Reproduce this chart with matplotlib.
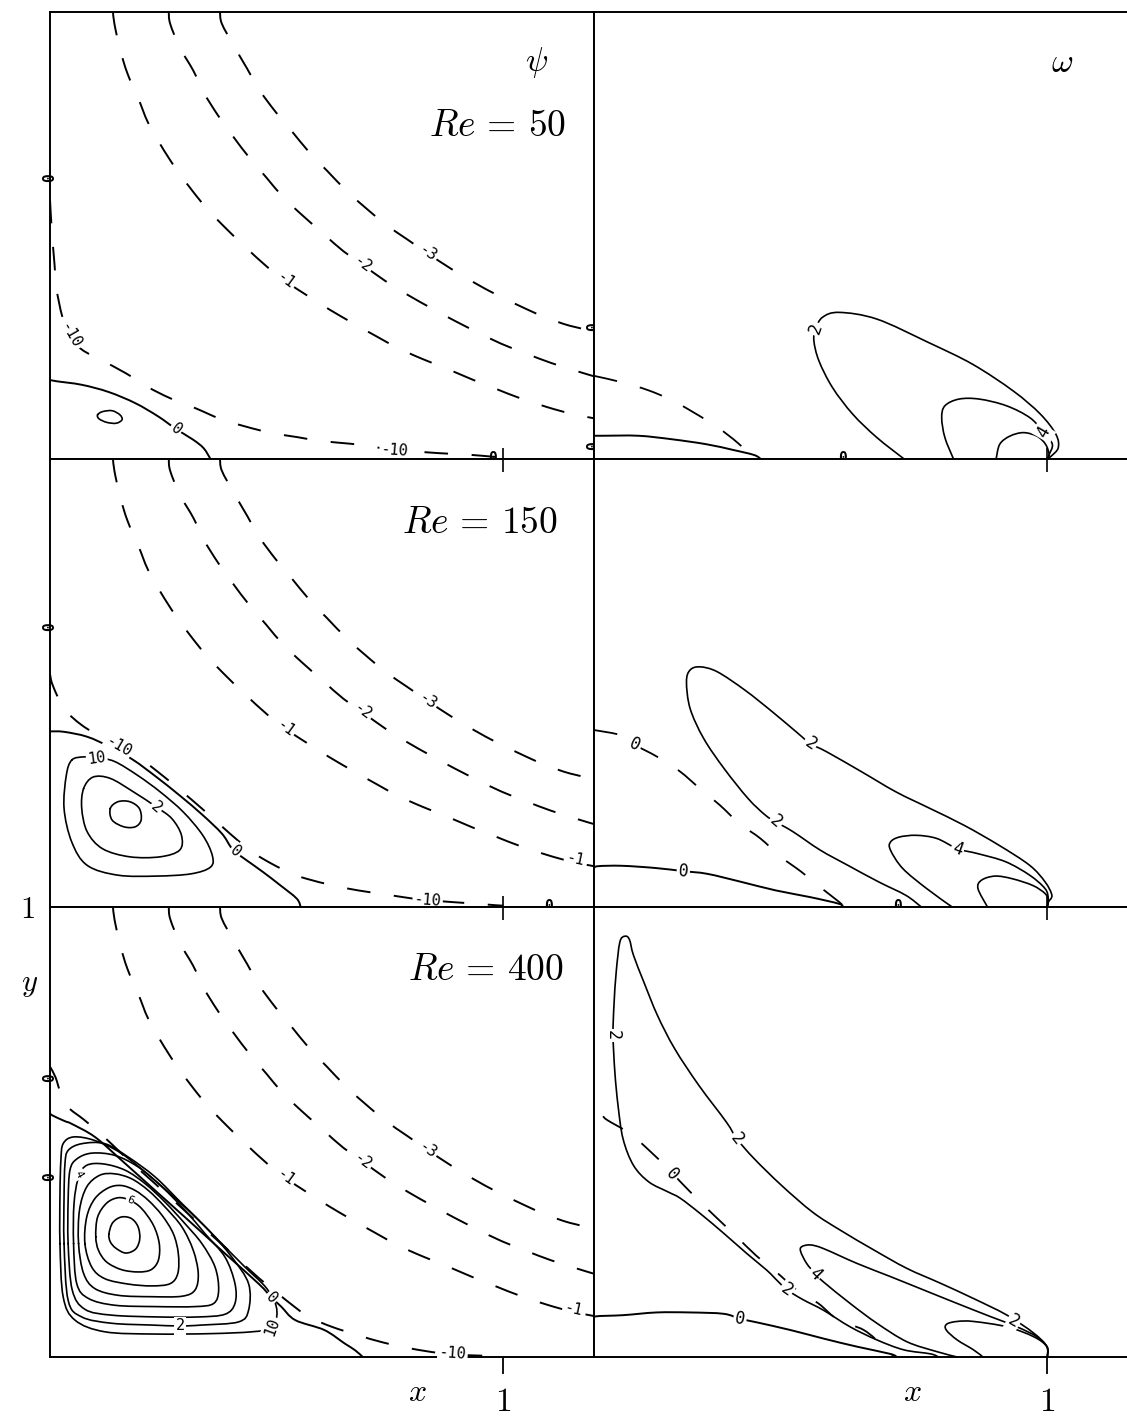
import matplotlib
matplotlib.use("Agg")
import matplotlib.pyplot as plt
from matplotlib.path import Path
from matplotlib.patches import PathPatch

plt.rcParams["mathtext.fontset"] = "cm"
plt.rcParams["lines.scale_dashes"] = False

# ---------------------------------------------------------------------------
# Stream-function contours far from the wall (psi = -1, -2, -3), same at all Re
# ---------------------------------------------------------------------------
PSI_NEG1 = [(0.139, 1.0), (0.142, 0.974), (0.154, 0.918), (0.171, 0.862), (0.195, 0.806),
            (0.216, 0.753), (0.245, 0.701), (0.276, 0.652), (0.311, 0.604), (0.347, 0.559),
            (0.390, 0.514), (0.430, 0.475), (0.481, 0.428), (0.519, 0.398), (0.570, 0.364),
            (0.617, 0.334), (0.668, 0.304), (0.719, 0.275), (0.770, 0.247), (0.821, 0.224),
            (0.880, 0.200), (0.931, 0.178), (0.986, 0.156), (1.037, 0.136), (1.097, 0.116),
            (1.147, 0.102), (1.2, 0.091)]
PSI_NEG2 = [(0.262, 1.0), (0.265, 0.974), (0.286, 0.921), (0.316, 0.869), (0.339, 0.820),
            (0.371, 0.768), (0.405, 0.720), (0.439, 0.675), (0.477, 0.630), (0.515, 0.585),
            (0.558, 0.544), (0.604, 0.503), (0.647, 0.465), (0.689, 0.435), (0.740, 0.398),
            (0.791, 0.366), (0.842, 0.337), (0.893, 0.309), (0.944, 0.283), (0.995, 0.258),
            (1.050, 0.236), (1.105, 0.215), (1.164, 0.196), (1.2, 0.185)]
PSI_NEG3 = [(0.375, 1.0), (0.379, 0.974), (0.405, 0.925), (0.435, 0.873), (0.460, 0.828),
            (0.498, 0.776), (0.532, 0.735), (0.572, 0.686), (0.611, 0.645), (0.654, 0.600),
            (0.696, 0.562), (0.740, 0.525), (0.787, 0.492), (0.833, 0.460), (0.884, 0.426),
            (0.935, 0.395), (0.986, 0.367), (1.037, 0.342), (1.092, 0.317), (1.147, 0.298),
            (1.2, 0.286)]

# ---------------------------------------------------------------------------
# Re = 50
# ---------------------------------------------------------------------------
RE50_PSI_M10 = [(0.0, 0.58), (0.004, 0.51), (0.010, 0.435), (0.014, 0.383), (0.027, 0.319),
                (0.044, 0.275), (0.070, 0.245), (0.112, 0.222), (0.167, 0.192), (0.214, 0.162),
                (0.265, 0.136), (0.320, 0.114), (0.375, 0.090), (0.430, 0.073), (0.485, 0.059),
                (0.545, 0.049), (0.600, 0.040), (0.664, 0.034), (0.715, 0.027), (0.753, 0.021),
                (0.859, 0.013), (0.918, 0.010), (0.978, 0.005), (1.0, 0.003)]
RE50_PSI_ZERO = [(0.0, 0.177), (0.014, 0.174), (0.070, 0.166), (0.129, 0.150), (0.188, 0.125),
                 (0.239, 0.095), (0.278, 0.067), (0.316, 0.043), (0.339, 0.024), (0.354, 0.0)]
RE50_PSI_CELL = [(0.105, 0.099), (0.116, 0.106), (0.137, 0.108), (0.154, 0.099), (0.159, 0.088),
                 (0.146, 0.080), (0.125, 0.082), (0.108, 0.090), (0.105, 0.099)]

RE50_OMG_ZERO = [(0.0, 0.052), (0.019, 0.052), (0.098, 0.052), (0.173, 0.044), (0.248, 0.033),
                 (0.308, 0.020), (0.353, 0.009), (0.368, 0.0)]
RE50_OMG_DASH = [(0.0, 0.186), (0.064, 0.171), (0.119, 0.154), (0.171, 0.132), (0.220, 0.104),
                 (0.271, 0.072), (0.316, 0.037), (0.345, 0.008)]
RE50_OMG_2 = [(0.684, 0.0), (0.624, 0.048), (0.571, 0.100), (0.526, 0.160), (0.496, 0.220),
              (0.485, 0.265), (0.489, 0.291), (0.504, 0.317), (0.541, 0.328), (0.624, 0.313),
              (0.737, 0.261), (0.835, 0.212), (0.925, 0.152), (0.985, 0.100), (1.019, 0.055),
              (1.024, 0.025), (1.008, 0.006), (1.0, 0.0)]
RE50_OMG_4 = [(0.793, 0.0), (0.774, 0.048), (0.767, 0.092), (0.774, 0.119), (0.805, 0.134),
              (0.850, 0.134), (0.910, 0.119), (0.962, 0.092), (0.992, 0.059), (1.011, 0.033),
              (1.004, 0.010), (1.0, 0.0)]
RE50_OMG_6 = [(0.887, 0.0), (0.895, 0.033), (0.917, 0.051), (0.947, 0.059), (0.977, 0.051),
              (0.996, 0.033), (1.004, 0.010), (1.0, 0.0)]

# ---------------------------------------------------------------------------
# Re = 150
# ---------------------------------------------------------------------------
RE150_PSI_M10 = [(0.0, 0.52), (0.006, 0.495), (0.031, 0.443), (0.070, 0.406), (0.116, 0.378),
                 (0.150, 0.360), (0.190, 0.338), (0.235, 0.304), (0.286, 0.262), (0.337, 0.218),
                 (0.379, 0.180), (0.415, 0.148), (0.450, 0.120), (0.490, 0.096), (0.530, 0.076),
                 (0.566, 0.063), (0.625, 0.048), (0.680, 0.037), (0.740, 0.028), (0.799, 0.019),
                 (0.833, 0.015), (0.944, 0.007), (0.982, 0.004), (1.0, 0.003)]
RE150_PSI_ZERO = [(0.0, 0.392), (0.031, 0.391), (0.082, 0.380), (0.133, 0.357), (0.184, 0.328),
                  (0.235, 0.290), (0.286, 0.249), (0.337, 0.205), (0.379, 0.164), (0.398, 0.135),
                  (0.410, 0.122), (0.434, 0.104), (0.470, 0.078), (0.506, 0.050), (0.544, 0.019),
                  (0.553, 0.0)]
RE150_PSI_CELL_A = [(0.048, 0.328), (0.036, 0.294), (0.031, 0.220), (0.048, 0.145), (0.082, 0.093),
                    (0.150, 0.071), (0.235, 0.069), (0.311, 0.074), (0.354, 0.089), (0.358, 0.115),
                    (0.337, 0.160), (0.294, 0.212), (0.243, 0.257), (0.193, 0.294), (0.142, 0.325),
                    (0.103, 0.333), (0.074, 0.335), (0.048, 0.328)]
RE150_PSI_CELL_B = [(0.074, 0.264), (0.070, 0.220), (0.082, 0.168), (0.116, 0.130), (0.176, 0.112),
                    (0.243, 0.112), (0.286, 0.127), (0.290, 0.160), (0.269, 0.197), (0.235, 0.223),
                    (0.184, 0.257), (0.133, 0.287), (0.095, 0.290), (0.074, 0.264)]
RE150_PSI_CELL_C = [(0.133, 0.220), (0.150, 0.235), (0.176, 0.235), (0.197, 0.220), (0.201, 0.194),
                    (0.188, 0.179), (0.163, 0.179), (0.137, 0.194), (0.133, 0.220)]

RE150_OMG_ZERO = [(0.0, 0.086), (0.008, 0.091), (0.061, 0.092), (0.136, 0.087), (0.197, 0.080),
                  (0.250, 0.074), (0.325, 0.056), (0.401, 0.037), (0.477, 0.022), (0.541, 0.007),
                  (0.548, 0.0)]
RE150_OMG_DASH = [(0.0, 0.395), (0.061, 0.383), (0.090, 0.362), (0.140, 0.335), (0.189, 0.303),
                  (0.234, 0.264), (0.278, 0.227), (0.321, 0.186), (0.367, 0.153), (0.412, 0.112),
                  (0.458, 0.078), (0.503, 0.041), (0.541, 0.011), (0.552, 0.0)]
RE150_OMG_2 = [(0.722, 0.0), (0.688, 0.026), (0.628, 0.056), (0.560, 0.093), (0.499, 0.127),
               (0.439, 0.168), (0.401, 0.190), (0.378, 0.205), (0.340, 0.242), (0.287, 0.309),
               (0.242, 0.376), (0.212, 0.443), (0.204, 0.503), (0.212, 0.529), (0.234, 0.536),
               (0.272, 0.525), (0.333, 0.484), (0.393, 0.436), (0.446, 0.391), (0.477, 0.365),
               (0.514, 0.346), (0.590, 0.302), (0.666, 0.257), (0.741, 0.220), (0.817, 0.182),
               (0.893, 0.138), (0.961, 0.093), (0.995, 0.056), (1.010, 0.026), (1.002, 0.011),
               (1.0, 0.0)]
RE150_OMG_4 = [(0.790, 0.0), (0.734, 0.041), (0.681, 0.086), (0.654, 0.127), (0.654, 0.145),
               (0.673, 0.156), (0.711, 0.160), (0.756, 0.153), (0.802, 0.130), (0.847, 0.119),
               (0.908, 0.101), (0.961, 0.071), (0.995, 0.041), (1.002, 0.019), (1.0, 0.0)]
RE150_OMG_6 = [(0.868, 0.0), (0.847, 0.041), (0.855, 0.060), (0.885, 0.069), (0.923, 0.063),
               (0.968, 0.048), (0.995, 0.030), (1.002, 0.015), (1.0, 0.0)]

# ---------------------------------------------------------------------------
# Re = 400
# ---------------------------------------------------------------------------
RE400_PSI_M10 = [(0.0, 0.645), (0.012, 0.622), (0.024, 0.585), (0.040, 0.555), (0.074, 0.528),
                 (0.114, 0.494), (0.158, 0.452), (0.195, 0.418), (0.232, 0.385), (0.305, 0.318),
                 (0.386, 0.244), (0.460, 0.176), (0.504, 0.140), (0.535, 0.115), (0.571, 0.089),
                 (0.622, 0.067), (0.681, 0.048), (0.732, 0.033), (0.795, 0.019), (0.858, 0.009),
                 (0.920, 0.004), (1.0, 0.002)]
RE400_PSI_ZERO = [(0.0, 0.542), (0.005, 0.537), (0.033, 0.524), (0.048, 0.518), (0.099, 0.489),
                  (0.158, 0.437), (0.232, 0.370), (0.305, 0.304), (0.386, 0.230), (0.460, 0.163),
                  (0.489, 0.132), (0.510, 0.112), (0.541, 0.082), (0.605, 0.060), (0.650, 0.030),
                  (0.673, 0.015), (0.690, 0.0)]
RE400_PSI_CELLS = [
    [(0.130, 0.273), (0.138, 0.298), (0.157, 0.311), (0.179, 0.308), (0.194, 0.290), (0.198, 0.263),
     (0.189, 0.240), (0.167, 0.231), (0.145, 0.242), (0.133, 0.256), (0.130, 0.273)],
    [(0.101, 0.267), (0.105, 0.311), (0.125, 0.342), (0.151, 0.354), (0.177, 0.348), (0.202, 0.330),
     (0.228, 0.293), (0.241, 0.252), (0.239, 0.215), (0.223, 0.194), (0.195, 0.189), (0.158, 0.194),
     (0.125, 0.211), (0.107, 0.237), (0.101, 0.267)],
    [(0.077, 0.252), (0.081, 0.311), (0.099, 0.352), (0.129, 0.376), (0.158, 0.381), (0.188, 0.370),
     (0.217, 0.348), (0.247, 0.315), (0.272, 0.274), (0.283, 0.230), (0.282, 0.186), (0.265, 0.163),
     (0.224, 0.158), (0.173, 0.162), (0.121, 0.174), (0.092, 0.200), (0.077, 0.252)],
    [(0.063, 0.252), (0.065, 0.326), (0.081, 0.378), (0.110, 0.404), (0.143, 0.407), (0.180, 0.396),
     (0.217, 0.370), (0.254, 0.333), (0.291, 0.289), (0.316, 0.237), (0.327, 0.186), (0.320, 0.149),
     (0.291, 0.135), (0.224, 0.134), (0.151, 0.137), (0.099, 0.152), (0.074, 0.186), (0.063, 0.252)],
    [(0.052, 0.252), (0.053, 0.341), (0.063, 0.400), (0.081, 0.426), (0.118, 0.429), (0.166, 0.415),
     (0.210, 0.385), (0.254, 0.344), (0.298, 0.296), (0.335, 0.252), (0.364, 0.200), (0.372, 0.149),
     (0.361, 0.119), (0.320, 0.112), (0.232, 0.112), (0.143, 0.115), (0.085, 0.130), (0.059, 0.163),
     (0.052, 0.252)],
    [(0.040, 0.252), (0.040, 0.348), (0.044, 0.415), (0.059, 0.440), (0.092, 0.453), (0.143, 0.448),
     (0.195, 0.422), (0.247, 0.378), (0.298, 0.326), (0.342, 0.274), (0.386, 0.222), (0.408, 0.163),
     (0.408, 0.119), (0.386, 0.095), (0.327, 0.089), (0.239, 0.089), (0.136, 0.093), (0.077, 0.106),
     (0.049, 0.149), (0.040, 0.252)],
    [(0.031, 0.252), (0.031, 0.356), (0.033, 0.429), (0.040, 0.459), (0.070, 0.474), (0.121, 0.474),
     (0.173, 0.444), (0.232, 0.400), (0.291, 0.341), (0.350, 0.282), (0.401, 0.222), (0.438, 0.163),
     (0.438, 0.104), (0.416, 0.078), (0.335, 0.071), (0.287, 0.069), (0.224, 0.071), (0.136, 0.075),
     (0.070, 0.089), (0.040, 0.126), (0.031, 0.252)],
    [(0.022, 0.252), (0.022, 0.363), (0.024, 0.437), (0.029, 0.474), (0.052, 0.489), (0.099, 0.481),
     (0.158, 0.452), (0.232, 0.392), (0.305, 0.326), (0.372, 0.259), (0.430, 0.200), (0.475, 0.156),
     (0.497, 0.119), (0.500, 0.089), (0.489, 0.064), (0.445, 0.056), (0.357, 0.052), (0.232, 0.051),
     (0.121, 0.056), (0.055, 0.082), (0.029, 0.134), (0.022, 0.252)],
]

RE400_OMG_ZERO = [(0.0, 0.082), (0.002, 0.090), (0.065, 0.093), (0.138, 0.099), (0.212, 0.099),
                  (0.286, 0.096), (0.322, 0.085), (0.359, 0.077), (0.433, 0.060), (0.506, 0.041),
                  (0.580, 0.023), (0.653, 0.007), (0.668, 0.0)]
RE400_OMG_DASH = [(0.020, 0.535), (0.030, 0.526), (0.080, 0.496), (0.125, 0.456), (0.163, 0.419),
                  (0.190, 0.390), (0.231, 0.348), (0.273, 0.307), (0.315, 0.267), (0.357, 0.226),
                  (0.402, 0.189), (0.444, 0.152), (0.495, 0.119), (0.539, 0.082), (0.595, 0.060),
                  (0.639, 0.023), (0.660, 0.0)]
RE400_OMG_2 = [(0.760, 0.0), (0.742, 0.007), (0.683, 0.016), (0.624, 0.038), (0.565, 0.067),
               (0.506, 0.104), (0.460, 0.128), (0.425, 0.150), (0.398, 0.176), (0.381, 0.193),
               (0.337, 0.230), (0.286, 0.275), (0.234, 0.319), (0.190, 0.353), (0.163, 0.367),
               (0.121, 0.389), (0.087, 0.426), (0.064, 0.485), (0.053, 0.559), (0.046, 0.633),
               (0.042, 0.715), (0.044, 0.781), (0.049, 0.856), (0.057, 0.922), (0.068, 0.935),
               (0.078, 0.928), (0.087, 0.893), (0.110, 0.833), (0.140, 0.759), (0.178, 0.685),
               (0.231, 0.604), (0.292, 0.522), (0.315, 0.485), (0.353, 0.441), (0.414, 0.381),
               (0.482, 0.322), (0.543, 0.282), (0.617, 0.238), (0.690, 0.197), (0.764, 0.164),
               (0.837, 0.130), (0.911, 0.093), (0.970, 0.053), (0.999, 0.023), (1.0, 0.0)]
RE400_OMG_4 = [(0.801, 0.0), (0.756, 0.012), (0.690, 0.034), (0.624, 0.075), (0.565, 0.119),
               (0.506, 0.167), (0.488, 0.185), (0.469, 0.208), (0.456, 0.234), (0.458, 0.245),
               (0.477, 0.249), (0.506, 0.241), (0.580, 0.208), (0.653, 0.179), (0.727, 0.149),
               (0.801, 0.119), (0.874, 0.090), (0.933, 0.067), (0.977, 0.045), (0.999, 0.023),
               (1.0, 0.0)]
RE400_OMG_6 = [(0.858, 0.0), (0.837, 0.016), (0.801, 0.038), (0.777, 0.060), (0.778, 0.073),
               (0.801, 0.079), (0.837, 0.079), (0.911, 0.067), (0.970, 0.045), (0.999, 0.023),
               (1.0, 0.0)]

# contour labels: (x, y, text, angle)
RE50_PSI_TAGS = [(0.519, 0.398, "-1", -36), (0.689, 0.435, "-2", -36), (0.833, 0.460, "-3", -34),
                 (0.044, 0.275, "-10", -60), (0.760, 0.020, "-10", -4), (0.278, 0.067, "0", -38)]
RE150_PSI_TAGS = [(0.519, 0.398, "-1", -36), (0.689, 0.435, "-2", -36), (0.833, 0.460, "-3", -34),
                  (1.159, 0.106, "-1", -12), (0.150, 0.358, "-10", -30), (0.833, 0.015, "-10", -4),
                  (0.103, 0.333, "10", 8), (0.235, 0.223, "2", -40), (0.41, 0.124, "0", -40)]
RE400_PSI_TAGS = [(0.519, 0.398, "-1", -36), (0.689, 0.435, "-2", -36), (0.833, 0.460, "-3", -34),
                  (1.154, 0.106, "-1", -12), (0.888, 0.008, "-10", -4), (0.287, 0.069, "2", 0),
                  (0.489, 0.066, "10", 70), (0.489, 0.132, "0", -45)]
RE400_PSI_SMALL_TAGS = [(0.177, 0.349, "6", -20), (0.064, 0.405, "4", -60)]
RE50_OMG_TAGS = [(0.489, 0.291, "2", 70), (0.992, 0.059, "4", 60)]
RE150_OMG_TAGS = [(0.401, 0.190, "2", -40), (0.477, 0.365, "2", -35), (0.802, 0.130, "4", -20),
                  (0.197, 0.080, "0", -5), (0.090, 0.362, "0", -25)]
RE400_OMG_TAGS = [(0.042, 0.715, "2", -90), (0.315, 0.485, "2", -52), (0.425, 0.150, "2", -35),
                  (0.488, 0.185, "4", -45), (0.171, 0.405, "0", -48), (0.322, 0.085, "0", -10),
                  (0.926, 0.080, "2", -30)]

# zero marks where the psi = 0 line meets the frame: (x, y, angle)
RE50_PSI_MARKS = [(0.0, 0.63, 90), (1.2, 0.296, 90), (1.2, 0.03, 90), (0.975, 0.0, 0)]
RE150_PSI_MARKS = [(0.0, 0.625, 90), (1.1, 0.0, 0)]
RE400_PSI_MARKS = [(0.0, 0.62, 90), (0.0, 0.40, 90)]
RE50_OMG_MARKS = [(0.549, 0.0, 0)]
RE150_OMG_MARKS = [(0.669, 0.0, 0)]
RE400_OMG_MARKS = []

RE_VALUES = ["50", "150", "400"]
RE_TEXT_POS = [(1.139, 0.723), (1.121, 0.834), (1.133, 0.837)]

DASH = (0, (17, 17))
LABEL_FONT = "DejaVu Sans Mono"


def smooth_path(pts):
    """Cubic Bezier path passing through every listed point (Catmull-Rom tangents)."""
    closed = pts[0] == pts[-1]
    p = list(pts[:-1]) if closed else list(pts)
    n = len(p)
    verts = [p[0]]
    codes = [Path.MOVETO]
    nseg = n if closed else n - 1
    for i in range(nseg):
        p1 = p[i]
        p2 = p[(i + 1) % n]
        if closed:
            p0 = p[(i - 1) % n]
            p3 = p[(i + 2) % n]
        else:
            p0 = p[i - 1] if i > 0 else p1
            p3 = p[i + 2] if i + 2 < n else p2
        c1 = (p1[0] + (p2[0] - p0[0]) / 6.0, p1[1] + (p2[1] - p0[1]) / 6.0)
        c2 = (p2[0] - (p3[0] - p1[0]) / 6.0, p2[1] - (p3[1] - p1[1]) / 6.0)
        verts += [c1, c2, p2]
        codes += [Path.CURVE4] * 3
    return Path(verts, codes)


def trace(ax, pts, dashed=False, lw=1.3):
    patch = PathPatch(smooth_path(pts), fill=False, edgecolor="black", lw=lw,
                      linestyle=DASH if dashed else "-", joinstyle="round",
                      capstyle="butt" if dashed else "round", zorder=2)
    ax.add_patch(patch)


def tag(ax, items, size=11):
    for x, y, s, rot in items:
        ax.text(x, y, s, rotation=rot, ha="center", va="center", fontsize=size,
                family=LABEL_FONT, rotation_mode="anchor",
                bbox=dict(boxstyle="square,pad=0.1", fc="white", ec="none"), zorder=4)


def marks(ax, items):
    for x, y, rot in items:
        ax.text(x, y, "0", rotation=rot, ha="center", va="center", fontsize=10.5,
                family=LABEL_FONT, fontweight="bold", clip_on=False, zorder=5)


fig = plt.figure(figsize=(11.27, 14.21), dpi=100)
col_x = [0.04437, 0.52707]
col_w = 0.48270
rows = [(0.67699, 0.31457), (0.36172, 0.31527), (0.04504, 0.31668)]

axes = []
for r, (b, h) in enumerate(rows):
    row = []
    for c in range(2):
        ax = fig.add_axes([col_x[c], b, col_w, h])
        ax.set_xlim(0, 1.2)
        ax.set_ylim(0, 1)
        for sp in ax.spines.values():
            sp.set_linewidth(1.4)
        if c == 1:
            ax.spines["right"].set_visible(False)
        ax.set_yticks([])
        ax.set_xticks([1.0])
        if r == 2:
            ax.set_xticklabels(["$1$"])
            ax.tick_params(axis="x", direction="out", length=12, width=1.3,
                           labelsize=24, pad=8)
        else:
            ax.set_xticklabels([])
            ax.tick_params(axis="x", direction="in", length=8, width=1.2)
        if r > 0:
            top = ax.secondary_xaxis("top")
            top.set_xticks([1.0])
            top.set_xticklabels([])
            top.tick_params(direction="in", length=9, width=1.2)
            top.spines["top"].set_visible(False)
        row.append(ax)
    axes.append(row)

psi_sets = [
    (RE50_PSI_M10, RE50_PSI_ZERO, [RE50_PSI_CELL], RE50_PSI_TAGS, RE50_PSI_MARKS),
    (RE150_PSI_M10, RE150_PSI_ZERO, [RE150_PSI_CELL_A, RE150_PSI_CELL_B, RE150_PSI_CELL_C],
     RE150_PSI_TAGS, RE150_PSI_MARKS),
    (RE400_PSI_M10, RE400_PSI_ZERO, RE400_PSI_CELLS, RE400_PSI_TAGS, RE400_PSI_MARKS),
]
omg_sets = [
    (RE50_OMG_ZERO, RE50_OMG_DASH, [RE50_OMG_2, RE50_OMG_4, RE50_OMG_6], RE50_OMG_TAGS, RE50_OMG_MARKS),
    (RE150_OMG_ZERO, RE150_OMG_DASH, [RE150_OMG_2, RE150_OMG_4, RE150_OMG_6], RE150_OMG_TAGS,
     RE150_OMG_MARKS),
    (RE400_OMG_ZERO, RE400_OMG_DASH, [RE400_OMG_2, RE400_OMG_4, RE400_OMG_6], RE400_OMG_TAGS,
     RE400_OMG_MARKS),
]

for r in range(3):
    # stream function
    ax = axes[r][0]
    m10, zero, cells, tags, mk = psi_sets[r]
    for curve in (PSI_NEG1, PSI_NEG2, PSI_NEG3, m10):
        trace(ax, curve, dashed=True, lw=1.4)
    trace(ax, zero, lw=1.4)
    for cell in cells:
        trace(ax, cell, lw=1.2)
    tag(ax, tags)
    marks(ax, mk)
    tx, ty = RE_TEXT_POS[r]
    ax.text(tx, ty, "$Re\\,=\\,%s$" % RE_VALUES[r], ha="right", va="baseline", fontsize=27)

    # vorticity
    ax = axes[r][1]
    zero, dash, loops, tags, mk = omg_sets[r]
    trace(ax, zero, lw=1.4)
    trace(ax, dash, dashed=True, lw=1.3)
    for loop in loops:
        trace(ax, loop, lw=1.2)
    tag(ax, tags, size=12)
    marks(ax, mk)

tag(axes[2][0], RE400_PSI_SMALL_TAGS, size=8)

axes[0][0].text(1.073, 0.888, r"$\psi$", ha="center", va="center", fontsize=24)
axes[0][1].text(1.032, 0.888, r"$\omega$", ha="center", va="center", fontsize=24)

# axis titles
bl = axes[2][0]
bl.set_yticks([1.0])
bl.set_yticklabels(["$1$"])
bl.tick_params(axis="y", length=0, pad=11, labelsize=22)
bl.set_ylabel("$y$", rotation=0, fontsize=22, va="center", ha="center")
bl.yaxis.set_label_coords(-0.037, 0.827)
for c, xpos in enumerate([0.675, 0.586]):
    axes[2][c].set_xlabel("$x$", fontsize=23)
    axes[2][c].xaxis.set_label_coords(xpos, -0.045)

fig.savefig("out.png", dpi=100)
